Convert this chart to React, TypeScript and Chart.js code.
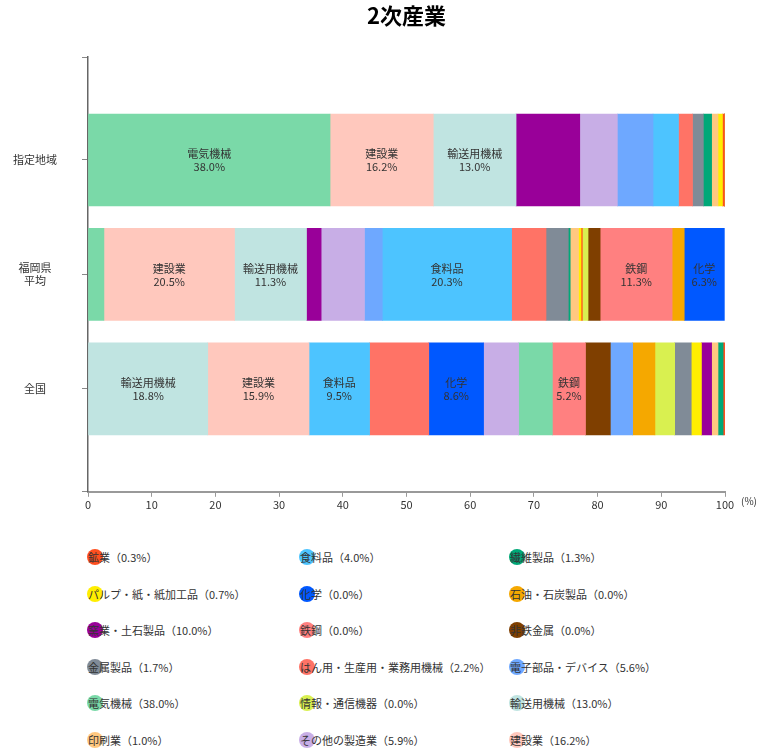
import React, { useEffect, useRef } from 'react';
import { Chart, registerables } from 'chart.js';

Chart.register(...registerables);

const FONT = '"Noto Sans CJK JP", "Noto Sans", sans-serif';

const categories = [
  '鉱業', '食料品', '繊維製品', 'パルプ・紙・紙加工品', '化学', '石油・石炭製品',
  '窯業・土石製品', '鉄鋼', '非鉄金属', '金属製品', 'はん用・生産用・業務用機械', '電子部品・デバイス',
  '電気機械', '情報・通信機器', '輸送用機械', '印刷業', 'その他の製造業', '建設業',
];
const categoryColors = [
  '#ff4f1f', '#4dc4ff', '#00a878', '#ffee00', '#0058ff', '#f5a800',
  '#990099', '#ff8080', '#7f3f00', '#808b97', '#ff7366', '#6ea8ff',
  '#7ad9a8', '#d9f050', '#c0e4e1', '#ffc880', '#c8aee6', '#ffc8bd',
];
const rowLabels = [['指定地域'], ['福岡県', '平均'], ['全国']];

// values in category order (%)
const shiteiValues = [0.3, 4.0, 1.3, 0.7, 0.0, 0.0, 10.0, 0.0, 0.0, 1.7, 2.2, 5.6, 38.0, 0.0, 13.0, 1.0, 5.9, 16.2];
const fukuokaValues = [0.2, 20.3, 0.3, 0.4, 6.3, 1.9, 2.3, 11.3, 1.9, 3.5, 5.4, 2.8, 2.5, 0.9, 11.3, 1.3, 6.8, 20.5];
const zenkokuValues = [0.3, 9.5, 0.8, 1.6, 8.6, 3.5, 1.6, 5.2, 3.9, 2.6, 9.3, 3.5, 5.3, 3.1, 18.8, 1.0, 5.5, 15.9];

// stacking order (category indices, left to right) per row
const shiteiOrder = [12, 17, 14, 6, 16, 11, 1, 10, 9, 2, 15, 3, 0, 13, 8, 7, 5, 4];
const fukuokaOrder = [12, 17, 14, 6, 16, 11, 1, 10, 9, 2, 15, 3, 0, 13, 8, 7, 5, 4];
const zenkokuOrder = [14, 17, 1, 10, 4, 16, 12, 7, 8, 11, 5, 13, 9, 3, 6, 15, 2, 0];

// categories that carry an in-bar label per row
const shiteiLabeled = [12, 17, 14];
const fukuokaLabeled = [17, 14, 1, 7, 4];
const zenkokuLabeled = [14, 17, 1, 4, 7];

const rowValues = [shiteiValues, fukuokaValues, zenkokuValues];
const rowOrders = [shiteiOrder, fukuokaOrder, zenkokuOrder];
const rowLabeled = [shiteiLabeled, fukuokaLabeled, zenkokuLabeled];

const legendColumns = [88, 300, 510];
const legendTop = 557;
const legendStep = 36.6;

const segmentLabels = {
  id: 'segmentLabels',
  afterDatasetsDraw(chart: any) {
    const ctx = chart.ctx;
    ctx.save();
    ctx.font = `11px ${FONT}`;
    ctx.fillStyle = '#333';
    ctx.textAlign = 'center';
    ctx.textBaseline = 'middle';
    chart.data.datasets.forEach((_ds: any, k: number) => {
      const meta = chart.getDatasetMeta(k);
      meta.data.forEach((el: any, ri: number) => {
        const cat = rowOrders[ri][k];
        if (!rowLabeled[ri].includes(cat)) return;
        const { x, base, y } = el.getProps(['x', 'base', 'y'], true);
        const cx = (x + base) / 2;
        ctx.fillText(categories[cat], cx, y - 6);
        ctx.fillText(rowValues[ri][cat].toFixed(1) + '%', cx, y + 7);
      });
    });
    const xs = chart.scales.x;
    ctx.font = `10px ${FONT}`;
    ctx.textAlign = 'left';
    ctx.fillText('(%)', xs.right + 16, xs.top + 9);
    ctx.restore();
  },
};

export default function App() {
  const canvasRef = useRef<HTMLCanvasElement | null>(null);

  useEffect(() => {
    document.body.style.margin = '0';
    document.body.style.overflow = 'hidden';
    document.documentElement.style.overflow = 'hidden';
    if (!canvasRef.current) return;
    const datasets = categories.map((_c, k) => ({
      label: 'slot' + k,
      data: rowValues.map((vals, ri) => ({ x: vals[rowOrders[ri][k]], y: ri })),
      backgroundColor: rowValues.map((_v, ri) => categoryColors[rowOrders[ri][k]]),
      borderWidth: 0,
      barThickness: 92,
    }));
    const chart = new Chart(canvasRef.current, {
      type: 'bar',
      data: { datasets },
      plugins: [segmentLabels],
      options: {
        indexAxis: 'y',
        animation: false,
        responsive: false,
        devicePixelRatio: 1,
        layout: { padding: { left: 13, right: 38, top: 0, bottom: 18 } },
        plugins: {
          legend: { display: false },
          tooltip: { enabled: false },
          title: {
            display: true,
            text: '2次産業',
            fullSize: false,
            color: '#000',
            font: { family: FONT, size: 22, weight: 'bold' },
            padding: { top: 2, bottom: 28.6 },
          },
        },
        scales: {
          x: {
            type: 'linear',
            stacked: true,
            min: 0,
            max: 100,
            grid: { drawOnChartArea: false, drawTicks: true, tickLength: 5, color: '#999' },
            border: { display: true, color: '#999', width: 2 },
            ticks: { stepSize: 10, padding: 1, color: '#333', font: { family: FONT, size: 11 } },
          },
          y: {
            type: 'linear',
            stacked: true,
            reverse: true,
            offset: false,
            min: -0.9,
            max: 2.9,
            afterBuildTicks: (scale: any) => {
              scale.ticks = [-0.9, 0, 1, 2, 2.9].map((v) => ({ value: v }));
            },
            afterFit: (scale: any) => {
              scale.width = 75;
            },
            grid: { drawOnChartArea: false, drawTicks: true, tickLength: 6, color: '#888', offset: false },
            border: { display: true, color: '#666', width: 1.5 },
            ticks: {
              crossAlign: 'center',
              padding: 25,
              color: '#333',
              font: { family: FONT, size: 11 },
              callback: (v: any) => {
                const i = Number(v);
                return Number.isInteger(i) && rowLabels[i] ? rowLabels[i] : '';
              },
            },
          },
        },
      } as any,
    });
    return () => chart.destroy();
  }, []);

  return (
    <div style={{ position: 'relative', width: 763, height: 750, overflow: 'hidden', fontFamily: FONT }}>
      <canvas ref={canvasRef} width={763} height={530} style={{ display: 'block', width: 763, height: 530 }} />
      {categories.map((name, i) => {
        const col = i % 3;
        const row = Math.floor(i / 3);
        const cx = legendColumns[col];
        const cy = legendTop + row * legendStep;
        return (
          <div key={name}>
            <div
              style={{
                position: 'absolute', left: cx - 1, top: cy - 8, width: 16, height: 16,
                borderRadius: '50%', background: categoryColors[i],
              }}
            />
            <div
              style={{
                position: 'absolute', left: cx, top: cy - 8, height: 16, lineHeight: '16px',
                fontSize: 11, color: '#333', whiteSpace: 'nowrap',
              }}
            >
              {name + '（' + shiteiValues[i].toFixed(1) + '%）'}
            </div>
          </div>
        );
      })}
    </div>
  );
}
